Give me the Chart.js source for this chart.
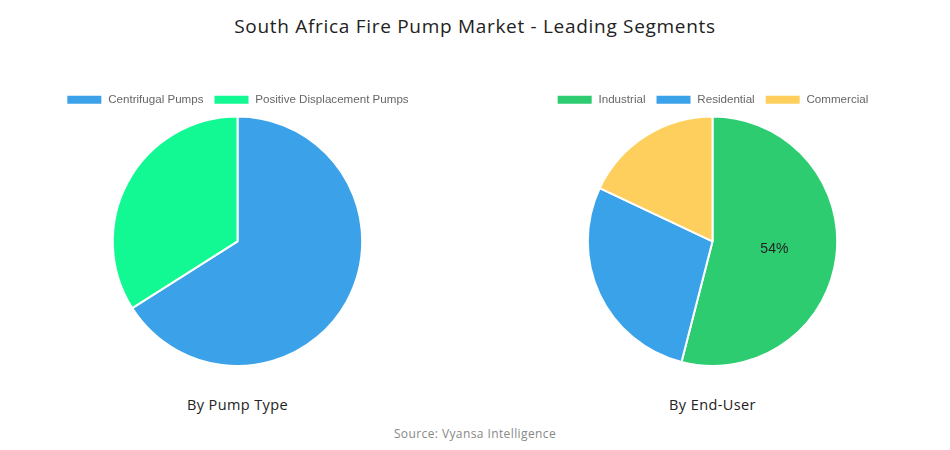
<!DOCTYPE html>
<html>
<head>
<meta charset="utf-8">
<script src="https://cdn.jsdelivr.net/npm/chart.js@4/dist/chart.umd.min.js"></script>
<style>
  html, body { margin:0; padding:0; background:#fff; }
  body { width:950px; height:450px; position:relative; overflow:hidden; font-family:"Open Sans", sans-serif; }
  #title { position:absolute; top:13px; left:0; width:950px; text-align:center; font-size:19px; letter-spacing:0.7px; color:#222; }
  .box { position:absolute; top:84px; width:475px; height:283px; }
  #leftBox { left:0; }
  #rightBox { left:475px; }
  .sub { position:absolute; top:395px; width:475px; text-align:center; font-size:14.5px; letter-spacing:0.4px; color:#222; }
  #source { position:absolute; top:425px; left:0; width:950px; text-align:center; font-size:12px; letter-spacing:0.4px; color:#888; }
</style>
</head>
<body>
<div id="title">South Africa Fire Pump Market - Leading Segments</div>
<div class="box" id="leftBox"><canvas id="pumpChart"></canvas></div>
<div class="box" id="rightBox"><canvas id="userChart"></canvas></div>
<div class="sub" style="left:0">By Pump Type</div>
<div class="sub" style="left:475px">By End-User</div>
<div id="source">Source: Vyansa Intelligence</div>

<script>
// ======================================================
// Data
// ======================================================

const pumpLabels = ["Centrifugal Pumps", "Positive Displacement Pumps"];
const pumpValues = [66, 34];
const pumpColors = ["#3ba2e9", "#12f893"];

const userLabels = ["Industrial", "Residential", "Commercial"];
const userValues = [54, 28, 18];
const userColors = ["#2ecc71", "#3aa2e8", "#fecf5c"];

// ======================================================
// Slice label plugin (only where asked)
// ======================================================

const sliceLabel = {
    id: "sliceLabel",
    afterDatasetsDraw(chart, args, opts) {
        if (!opts.show) return;
        const ctx = chart.ctx;
        const meta = chart.getDatasetMeta(0);
        const data = chart.data.datasets[0].data;
        const total = data.reduce((a, b) => a + b, 0);
        meta.data.forEach((arc, i) => {
            if (!opts.indexes.includes(i)) return;
            const p = arc.getCenterPoint();
            ctx.save();
            ctx.font = "14px 'Liberation Sans', Arial, sans-serif";
            ctx.fillStyle = "#222";
            ctx.textAlign = "center";
            ctx.textBaseline = "middle";
            ctx.fillText(Math.round(data[i] / total * 100) + "%", p.x, p.y);
            ctx.restore();
        });
    }
};

function makePie(id, labels, values, colors, labelOpts) {
    return new Chart(document.getElementById(id), {
        type: "pie",
        data: {
            labels: labels,
            datasets: [{
                data: values,
                backgroundColor: colors,
                borderColor: "#fff",
                borderWidth: 2
            }]
        },
        options: {
            responsive: true,
            maintainAspectRatio: false,
            animation: false,
            layout: { padding: 0 },
            plugins: {
                legend: {
                    position: "top",
                    labels: {
                        boxWidth: 36,
                        boxHeight: 10,
                        color: "#666",
                        font: { family: "'Liberation Sans', Arial, sans-serif", size: 11.6 }
                    }
                },
                tooltip: { enabled: false },
                sliceLabel: labelOpts
            }
        },
        plugins: [sliceLabel]
    });
}

makePie("pumpChart", pumpLabels, pumpValues, pumpColors, { show: false, indexes: [] });
makePie("userChart", userLabels, userValues, userColors, { show: true, indexes: [0] });
</script>
</body>
</html>
